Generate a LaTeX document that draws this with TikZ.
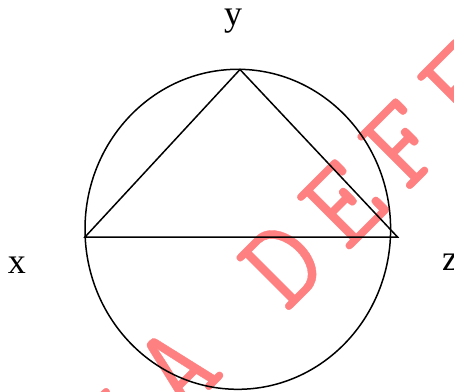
\documentclass[tikz,border=0pt]{standalone}
\usepackage{fontspec}
\setmainfont{Liberation Serif}
\newfontfamily\wmfont{Latin Modern Mono}[LetterSpace=17,FakeBold=0.3]
\usetikzlibrary{positioning}

\begin{document}
\begin{tikzpicture}[
    x=1pt, y=-1pt,
    vlabel/.style={
        font=\fontsize{36}{36}\selectfont,
        inner sep=0pt,
        anchor=base
    },
    edge/.style={line width=1.5pt},
    watermark/.style={
        font=\wmfont\fontsize{124}{124}\selectfont,
        text=red!50,
        rotate=45, inner sep=0pt, anchor=base
    }
]
\useasboundingbox (0,0) rectangle (454,391);
\clip (0,0) rectangle (454,391);

\node[watermark] (wm) at (317,283) {COPIA DEFENSA};

\coordinate (O) at (237.8,229.3);
\coordinate (A) at (85,237);
\coordinate (B) at (240,69.5);
\coordinate (C) at (397.5,237);

\node[vlabel] (y) at (233,25) {y};
\node[vlabel] (x) at (17,273) {x};
\node[vlabel] (z) at (450,270) {z};

\draw[edge] (O) ellipse [x radius=152.8, y radius=160];
\draw[edge] (A) -- (B) -- (C) -- cycle;

\end{tikzpicture}
\end{document}
